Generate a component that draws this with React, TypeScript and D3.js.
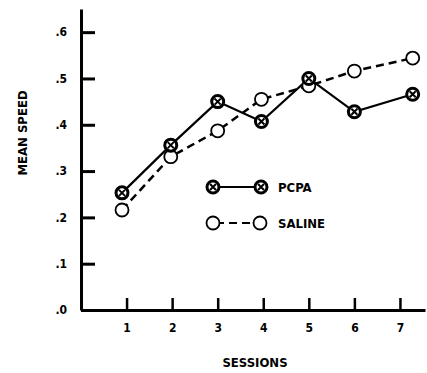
import { useEffect, useRef } from 'react'
import * as d3 from 'd3'

// sessions as drawn (first and last points sit a bit off their ticks in the original)
const sessions = [0.9, 1.97, 3.0, 3.96, 5.0, 6.0, 7.28]
const pcpa = [0.253, 0.356, 0.45, 0.407, 0.5, 0.428, 0.466]
const saline = [0.216, 0.331, 0.387, 0.455, 0.484, 0.516, 0.544]
const xTicks = [1, 2, 3, 4, 5, 6, 7]
const yTicks = [0, 0.1, 0.2, 0.3, 0.4, 0.5, 0.6]
const seriesNames = ['PCPA', 'SALINE']

const W = 427
const H = 373
const FONT = "'Liberation Sans Narrow', 'DejaVu Sans Condensed', 'Roboto', sans-serif"

export default function App() {
  const svgRef = useRef<SVGSVGElement>(null)

  useEffect(() => {
    if (!svgRef.current) return
    const svg = d3.select(svgRef.current)
    svg.selectAll('*').remove()

    const x = d3.scaleLinear().domain([0, 7.55]).range([81, 425])
    const y = d3.scaleLinear().domain([0, 0.65]).range([310, 9])

    // y axis, ticks pointing into the plot
    const yAxis = svg.append('g')
      .attr('transform', `translate(${x(0)},0)`)
      .call(d3.axisLeft(y).tickValues(yTicks).tickSizeInner(-14).tickSizeOuter(0).tickPadding(14)
        .tickFormat(d => '.' + Math.round(+d * 10)))
    yAxis.select('.domain').attr('stroke', '#000').attr('stroke-width', 3)
    yAxis.selectAll('.tick line').attr('stroke', '#000').attr('stroke-width', 3)
    yAxis.selectAll('.tick text')
      .attr('fill', '#000').attr('font-family', FONT).attr('font-weight', 'bold').attr('font-size', 12)

    // x axis, ticks pointing up
    const xAxis = svg.append('g')
      .attr('transform', `translate(0,${y(0)})`)
      .call(d3.axisBottom(x).tickValues(xTicks).tickSizeInner(-12).tickSizeOuter(0).tickPadding(13)
        .tickFormat(d3.format('d')))
    xAxis.select('.domain').attr('stroke', '#000').attr('stroke-width', 3)
    xAxis.selectAll('.tick line').attr('stroke', '#000').attr('stroke-width', 2.5)
    xAxis.selectAll('.tick text')
      .attr('fill', '#000').attr('font-family', FONT).attr('font-weight', 'bold').attr('font-size', 12)

    // axis titles
    svg.append('text')
      .attr('x', 255).attr('y', 367)
      .attr('text-anchor', 'middle')
      .attr('font-family', FONT).attr('font-weight', 'bold').attr('font-size', 13)
      .text('SESSIONS')
    svg.append('text')
      .attr('transform', `translate(27,133) rotate(-90)`)
      .attr('text-anchor', 'middle')
      .attr('font-family', FONT).attr('font-weight', 'bold').attr('font-size', 13)
      .text('MEAN SPEED')

    const line = d3.line<number>()
      .x((_, i) => x(sessions[i]))
      .y(d => y(d))

    svg.append('path')
      .datum(saline)
      .attr('d', line)
      .attr('fill', 'none').attr('stroke', '#000').attr('stroke-width', 2.5)
      .attr('stroke-dasharray', '8,5')
    svg.append('path')
      .datum(pcpa)
      .attr('d', line)
      .attr('fill', 'none').attr('stroke', '#000').attr('stroke-width', 2.2)

    const openMarker = (g: d3.Selection<any, any, any, any>, cx: number, cy: number) => {
      g.append('circle').attr('cx', cx).attr('cy', cy).attr('r', 6.5)
        .attr('fill', '#fff').attr('stroke', '#000').attr('stroke-width', 1.8)
    }
    const hatchMarker = (g: d3.Selection<any, any, any, any>, cx: number, cy: number) => {
      g.append('circle').attr('cx', cx).attr('cy', cy).attr('r', 6)
        .attr('fill', '#fff').attr('stroke', '#000').attr('stroke-width', 3)
      g.append('path')
        .attr('d', `M${cx - 3},${cy - 3}L${cx + 3},${cy + 3}M${cx + 3},${cy - 3}L${cx - 3},${cy + 3}`)
        .attr('stroke', '#000').attr('stroke-width', 2)
    }

    const marks = svg.append('g')
    saline.forEach((v, i) => openMarker(marks, x(sessions[i]), y(v)))
    pcpa.forEach((v, i) => hatchMarker(marks, x(sessions[i]), y(v)))

    // legend
    const lg = svg.append('g')
    const rows = [187, 223]
    lg.append('line').attr('x1', 213).attr('x2', 261).attr('y1', rows[0]).attr('y2', rows[0])
      .attr('stroke', '#000').attr('stroke-width', 2.2)
    hatchMarker(lg, 213, rows[0])
    hatchMarker(lg, 261, rows[0])
    lg.append('line').attr('x1', 213).attr('x2', 260).attr('y1', rows[1]).attr('y2', rows[1])
      .attr('stroke', '#000').attr('stroke-width', 2.2).attr('stroke-dasharray', '8,5')
      .attr('stroke-dashoffset', -3)
    openMarker(lg, 213, rows[1])
    openMarker(lg, 260, rows[1])
    seriesNames.forEach((name, i) => {
      lg.append('text')
        .attr('x', 278).attr('y', rows[i]).attr('dy', '0.36em')
        .attr('font-family', FONT).attr('font-weight', 'bold').attr('font-size', 13)
        .text(name)
    })
  }, [])

  return (
    <svg
      ref={svgRef}
      width={W}
      height={H}
      style={{ position: 'absolute', left: 0, top: 0, background: '#fff' }}
    />
  )
}
